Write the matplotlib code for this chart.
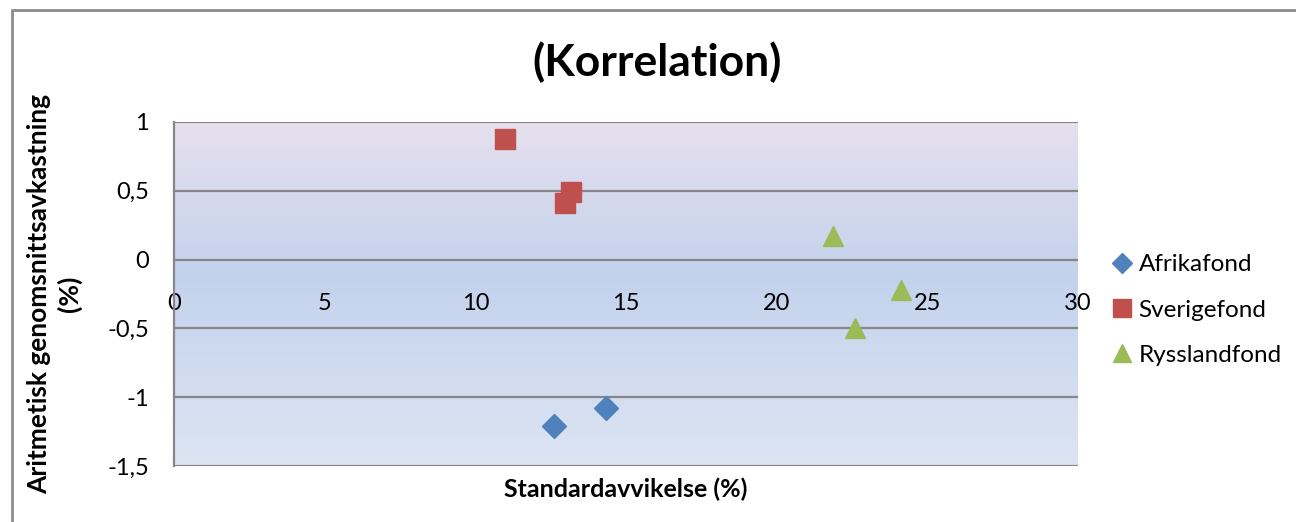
import numpy as np
import matplotlib.pyplot as plt
from matplotlib.colors import LinearSegmentedColormap
from matplotlib.lines import Line2D
from matplotlib.ticker import FuncFormatter

plt.rcParams['font.family'] = ['Lato', 'DejaVu Sans']

# standardavvikelse (%) och aritmetisk genomsnittsavkastning (%)
afrika_x = [12.62, 14.32]
afrika_y = [-1.21, -1.08]
sverige_x = [11.0, 13.19, 12.96]
sverige_y = [0.875, 0.49, 0.41]
ryssland_x = [21.86, 24.12, 22.59]
ryssland_y = [0.17, -0.22, -0.50]

names = ['Afrikafond', 'Sverigefond', 'Rysslandfond']
colors = ['#4F81BD', '#C0504D', '#9BBB59']
xticks = [0, 5, 10, 15, 20, 25, 30]
yticks = [-1.5, -1, -0.5, 0, 0.5, 1]

fig = plt.figure(figsize=(12.96, 5.22), dpi=100)
ax = fig.add_axes([174 / 1296, 56 / 522, 904 / 1296, 344 / 522])

# bakgrund med gradient
grad = LinearSegmentedColormap.from_list(
    'bg', [(0.0, '#dde5f3'), (0.55, '#c3d2ec'), (1.0, '#e6e0ee')])
g = np.linspace(0, 1, 256).reshape(-1, 1)
ax.imshow(g, cmap=grad, aspect='auto', origin='lower',
          extent=[0, 30, -1.5, 1], zorder=0)

ax.set_xlim(0, 30)
ax.set_ylim(-1.5, 1)
ax.set_yticks(yticks)
ax.yaxis.set_major_formatter(FuncFormatter(lambda v, p: ('%g' % v).replace('.', ',')))
ax.tick_params(axis='y', length=0, pad=18, labelsize=17)
ax.set_xticks([])
for y in yticks:
    ax.axhline(y, color='#878787', lw=1.6, zorder=1)
for s in ['top', 'right', 'bottom']:
    ax.spines[s].set_visible(False)
ax.spines['left'].set_color('#878787')
ax.spines['left'].set_linewidth(1.6)

# x-axelns etiketter vid y = 0
sec = ax.secondary_xaxis(0.6)
sec.set_alignment('bottom')
sec.set_xticks(xticks)
sec.tick_params(length=0, pad=24, labelsize=17)
for s in sec.spines.values():
    s.set_visible(False)

ax.plot(afrika_x, afrika_y, 'D', color=colors[0], ms=12, mec=colors[0], zorder=3)
ax.plot(sverige_x, sverige_y, 's', color=colors[1], ms=14.5, mec=colors[1], zorder=3)
ax.plot(ryssland_x, ryssland_y, '^', color=colors[2], ms=15, mec=colors[2], zorder=3)

fig.text(657 / 1296, 1 - 62 / 522, '(Korrelation)', fontsize=32,
         fontweight='bold', ha='center', va='center')
ax.set_xlabel('Standardavvikelse (%)', fontsize=18, fontweight='bold', labelpad=8)
ax.set_ylabel('Aritmetisk genomsnittsavkastning\n(%)', fontsize=19,
              fontweight='bold', labelpad=18, linespacing=1.25)

handles = [Line2D([], [], ls='', marker='D', color=colors[0], ms=10),
           Line2D([], [], ls='', marker='s', color=colors[1], ms=13),
           Line2D([], [], ls='', marker='^', color=colors[2], ms=13)]
fig.legend(handles, names, loc='center left', bbox_to_anchor=(1090 / 1296, 1 - 310 / 522),
           frameon=False, fontsize=17.5, handlelength=0.8, handletextpad=0.3,
           labelspacing=1.0)

# ram runt diagrammet
fig.add_artist(plt.Rectangle((12 / 1296, -0.1), 1.2, 1 - 10 / 522 + 0.1,
                             transform=fig.transFigure, fill=False,
                             ec='#8c8c8c', lw=2, clip_on=False))

fig.savefig('out.png', dpi=100)
